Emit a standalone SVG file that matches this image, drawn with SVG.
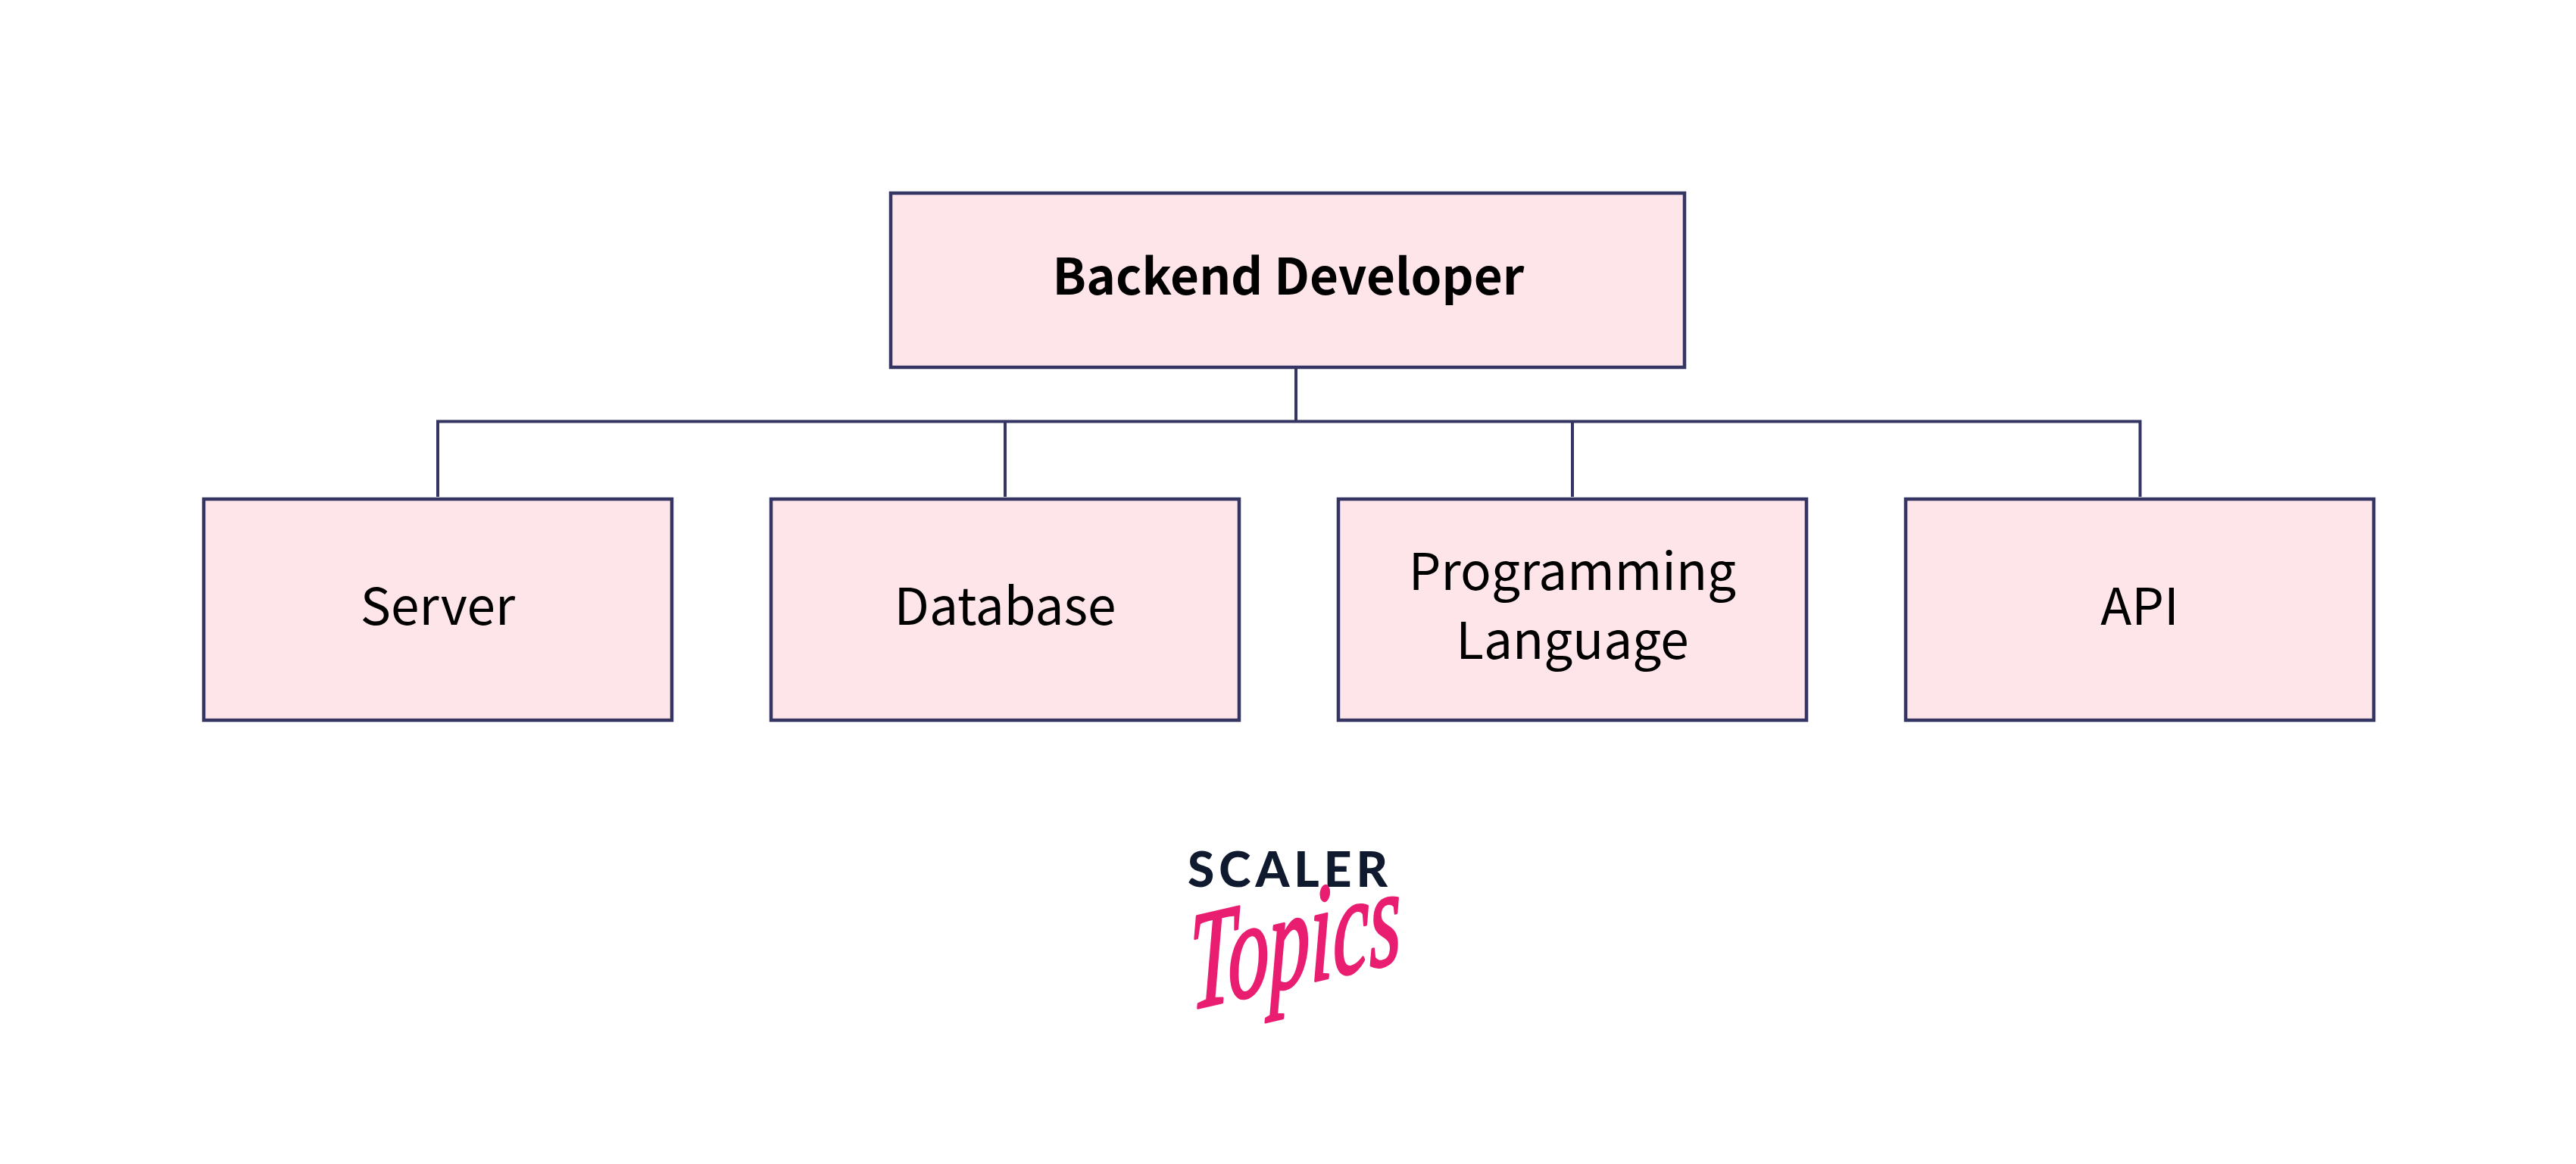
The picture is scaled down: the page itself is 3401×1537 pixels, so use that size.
<svg xmlns="http://www.w3.org/2000/svg" width="3401" height="1537" viewBox="0 0 3401 1537">
<style>
.box{fill:#fee5ea;stroke:#343563;stroke-width:4.5}
.lbl{font-family:"Noto Sans CJK SC","Source Sans Pro","Noto Sans",sans-serif;font-size:67.500px;fill:#000;text-anchor:middle}
.b{font-weight:700;font-size:65.500px}
.conn{fill:none;stroke:#343563;stroke-width:4}
</style>
<rect width="3401" height="1537" fill="#fff"/>
<g id="connectors">
<path class="conn" d="M1711 487V556.5M578 656V556.5H2825.500V656M1327 556.500V656M2076 556.500V656"/>
</g>
<g id="node-backend">
<rect class="box" x="1176" y="255" width="1048" height="230"/>
<text class="lbl b" x="1701" y="389">Backend Developer</text>
</g>
<g id="node-server">
<rect class="box" x="269" y="659" width="618" height="292"/>
<text class="lbl" x="578" y="825">Server</text>
</g>
<g id="node-database">
<rect class="box" x="1018" y="659" width="618" height="292"/>
<text class="lbl" x="1327" y="825">Database</text>
</g>
<g id="node-language">
<rect class="box" x="1767" y="659" width="618" height="292"/>
<text class="lbl" x="2076" y="779">Programming</text>
<text class="lbl" x="2076" y="870">Language</text>
</g>
<g id="node-api">
<rect class="box" x="2516" y="659" width="618" height="292"/>
<text class="lbl" x="2825" y="825">API</text>
</g>
<g id="logo">
<text x="1703" y="1171" font-family="Lato,Inter,sans-serif" font-weight="900" font-size="64" letter-spacing="6" text-anchor="middle" fill="#0f1a2e">SCALER</text>
<text transform="translate(1572 1333) rotate(-13) skewX(-12) scale(0.74 1.2)" font-family="Liberation Serif,serif" font-style="italic" font-size="150" fill="#e91e71" stroke="#e91e71" stroke-width="3" stroke-linejoin="round">Topics</text>
</g>
</svg>
